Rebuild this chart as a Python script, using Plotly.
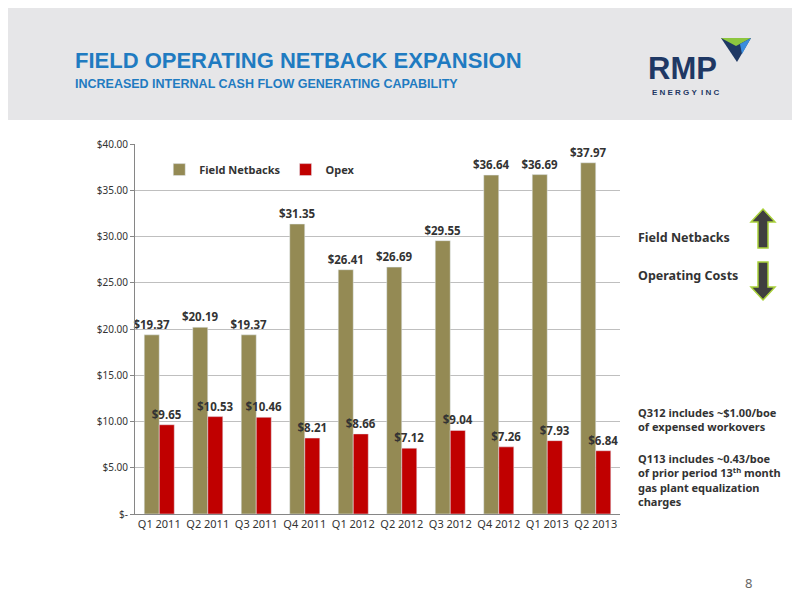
import plotly.graph_objects as go

quarters = ["Q1 2011", "Q2 2011", "Q3 2011", "Q4 2011", "Q1 2012",
            "Q2 2012", "Q3 2012", "Q4 2012", "Q1 2013", "Q2 2013"]
netbacks = [19.37, 20.19, 19.37, 31.35, 26.41, 26.69, 29.55, 36.64, 36.69, 37.97]
opex = [9.65, 10.53, 10.46, 8.21, 8.66, 7.12, 9.04, 7.26, 7.93, 6.84]
tick_vals = [0, 5, 10, 15, 20, 25, 30, 35, 40]
tick_text = ["$-"] + ["$%.2f" % v for v in tick_vals[1:]]

# plot area in pixels
L, R, T, B = 127, 612, 136, 506


def px(x):
    return (x - L) / (R - L)


def py(y):
    return (B - y) / (B - T)


fnt = "Noto Sans"
fig = go.Figure()
fig.add_trace(go.Bar(x=quarters, y=netbacks, name="<b>Field Netbacks</b>", marker_color="#948A54",
                     text=["<b>$%.2f</b>" % v for v in netbacks], textposition="outside", constraintext="none",
                     textfont=dict(size=11.5, color="#333333"), cliponaxis=False))
fig.add_trace(go.Bar(x=quarters, y=opex, name="<b>Opex</b>", marker_color="#C00000",
                     text=["<b>$%.2f</b>" % v for v in opex], textposition="outside", constraintext="none",
                     textfont=dict(size=11.5, color="#333333"), cliponaxis=False))

shapes = [
    # header band
    dict(type="rect", xref="paper", yref="paper", x0=px(-10), x1=px(810), y0=py(112), y1=py(-10),
         fillcolor="#E6E6E8", line_width=0, layer="below"),
    # up arrow
    dict(type="path", xref="paper", yref="paper",
         path="M %f %f L %f %f L %f %f L %f %f L %f %f L %f %f L %f %f Z" % (
             px(755), py(201), px(767), py(214), px(760), py(214), px(760), py(240),
             px(750), py(240), px(750), py(214), px(743), py(214)),
         fillcolor="#3F3F3F", line=dict(color="#A9D13A", width=1.5)),
    # down arrow
    dict(type="path", xref="paper", yref="paper",
         path="M %f %f L %f %f L %f %f L %f %f L %f %f L %f %f L %f %f Z" % (
             px(755), py(292), px(767), py(279), px(760), py(279), px(760), py(254),
             px(750), py(254), px(750), py(279), px(743), py(279)),
         fillcolor="#3F3F3F", line=dict(color="#A9D13A", width=1.5)),
    # logo triangle
    dict(type="path", xref="paper", yref="paper",
         path="M %f %f L %f %f L %f %f Z" % (px(713), py(30), px(743), py(30), px(729), py(54)),
         fillcolor="#1F3864", line_width=0),
    dict(type="path", xref="paper", yref="paper",
         path="M %f %f L %f %f L %f %f Z" % (px(713), py(30), px(743), py(30), px(728), py(38)),
         fillcolor="#8DC63F", line_width=0),
    dict(type="path", xref="paper", yref="paper",
         path="M %f %f L %f %f L %f %f Z" % (px(732), py(36), px(743), py(30), px(734), py(46)),
         fillcolor="#3A8DDE", line_width=0),
]


def note(x, y, text, size=13, color="#333333", anchor="left", bold=False, fam=fnt):
    return dict(x=px(x), y=py(y), xref="paper", yref="paper", text=("<b>%s</b>" % text) if bold else text,
                showarrow=False, xanchor=anchor, yanchor="middle", align="left",
                font=dict(size=size, color=color, family=fam))


annotations = [
    note(65, 52, "FIELD OPERATING NETBACK EXPANSION", 22, "#1F7BC1", bold=True, fam="Liberation Sans"),
    note(65, 76, "INCREASED INTERNAL CASH FLOW GENERATING CAPABILITY", 12.5, "#1F7BC1", bold=True,
         fam="Liberation Sans"),
    note(638, 60, "RMP", 31, "#1F3864", bold=True, fam="Liberation Sans"),
    note(642, 84, "E N E R G Y  I N C", 8, "#1F3864", bold=True, fam="Liberation Sans"),
    note(628, 229, "Field Netbacks", 12.5, bold=True),
    note(628, 267, "Operating Costs", 12.5, bold=True),
    note(628, 411, "Q312 includes ~$1.00/boe<br>of expensed workovers", 11, bold=True),
    note(628, 472, "Q113 includes ~0.43/boe<br>of prior period 13<sup>th</sup> month<br>gas plant equalization<br>charges",
         11, bold=True),
    note(740, 575, "8", 13, "#666666", anchor="center"),
]

fig.update_layout(
    width=800, height=600,
    margin=dict(l=L, r=800 - R, t=T, b=600 - B),
    paper_bgcolor="white", plot_bgcolor="white",
    barmode="group", bargap=0.38, bargroupgap=0,
    font=dict(family=fnt, size=11, color="#333333"),
    showlegend=True,
    legend=dict(x=0.05, y=0.97, xanchor="left", yanchor="top", orientation="h",
                font=dict(size=11, color="#333333"), bgcolor="rgba(0,0,0,0)"),
    shapes=shapes, annotations=annotations,
)
fig.update_xaxes(showline=True, linecolor="#868686", ticks="", tickfont=dict(size=11))
fig.update_yaxes(range=[0, 40], tickvals=tick_vals, ticktext=tick_text, showgrid=True,
                 gridcolor="#BFBFBF", showline=True, linecolor="#868686", ticks="outside",
                 ticklen=4, tickcolor="#868686", tickfont=dict(size=10), zeroline=False)

fig.write_html("out.html")
